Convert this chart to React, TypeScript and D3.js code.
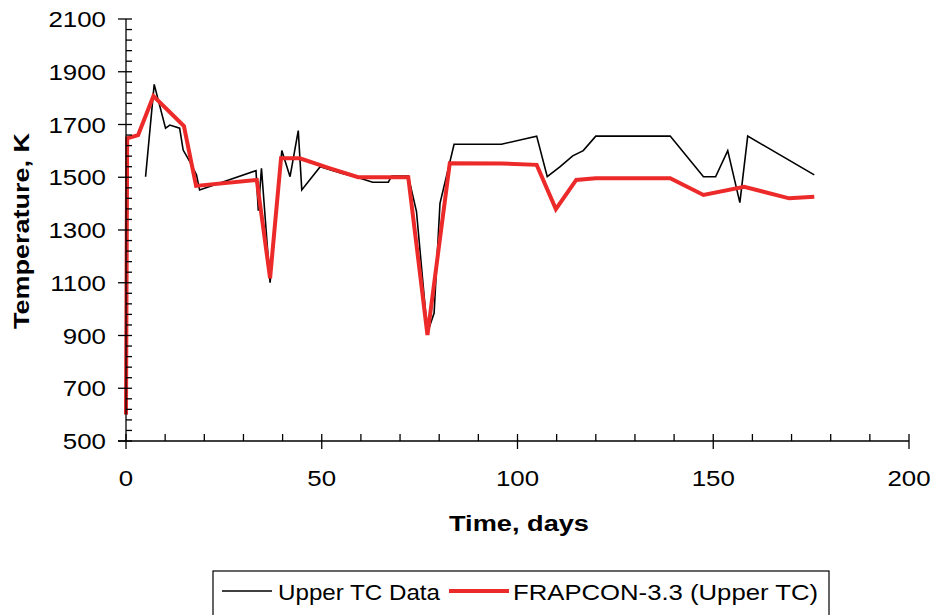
import React from 'react';
import * as d3 from 'd3';

// Upper TC thermocouple readings [day, K]
const tcDays = [5.0, 7.2, 10.1, 11.2, 13.7, 14.6, 16.3, 18.0, 18.8, 33.2, 33.8, 34.6, 36.8, 39.8, 41.9, 44.0, 44.9, 49.6, 55.0, 59.0, 63.0, 67.0, 67.9, 72.1, 74.2, 77.0, 78.7, 80.2, 83.8, 95.9, 104.9, 107.6, 110.9, 114.1, 116.8, 120.0, 139.0, 147.5, 150.6, 153.7, 156.8, 158.8, 175.8];
const tcTemps = [1502, 1852, 1686, 1698, 1686, 1603, 1559, 1509, 1452, 1525, 1373, 1534, 1100, 1601, 1502, 1677, 1452, 1540, 1515, 1500, 1481, 1481, 1505, 1505, 1370, 910, 985, 1401, 1625, 1625, 1656, 1502, 1540, 1581, 1601, 1656, 1656, 1502, 1502, 1601, 1404, 1656, 1509];

// FRAPCON-3.3 prediction [day, K]
const fcDays = [0, 0.3, 3.1, 7.0, 14.8, 17.9, 33.4, 36.8, 39.6, 44.4, 52.1, 59.3, 72.1, 77.0, 82.7, 95.9, 104.9, 109.8, 115.0, 120.0, 139.0, 147.5, 157.9, 169.4, 175.8];
const fcTemps = [600, 1648, 1660, 1808, 1694, 1467, 1490, 1117, 1572, 1572, 1534, 1500, 1500, 902, 1553, 1552, 1547, 1379, 1490, 1496, 1496, 1433, 1464, 1420, 1426];

const xTicks = [0, 50, 100, 150, 200];
const yTicks = [500, 700, 900, 1100, 1300, 1500, 1700, 1900, 2100];

const FONT = '"Liberation Sans", Arial, sans-serif';
const FS = 22.5;
const STRETCH = 1.15;

const App: React.FC = () => {
  const x = d3.scaleLinear().domain([0, 200]).range([126, 909]);
  const y = d3.scaleLinear().domain([500, 2100]).range([441, 19]);

  const line = d3.line<[number, number]>()
    .x(d => x(d[0]))
    .y(d => y(d[1]));

  const tcData: [number, number][] = tcDays.map((d, i) => [d, tcTemps[i]]);
  const fcData: [number, number][] = fcDays.map((d, i) => [d, fcTemps[i]]);

  const xMinor = d3.range(0, 201, 10).filter(v => v % 50 !== 0);
  const yMinor = d3.range(500, 2101, 40).filter(v => (v - 500) % 200 !== 0);

  return (
    <svg width={934} height={615} style={{ position: 'absolute', left: 0, top: 0, background: '#fff' }}>
      {/* series */}
      <path d={line(tcData) || ''} fill="none" stroke="#000" strokeWidth={1.6} strokeLinejoin="miter" />
      <path d={line(fcData) || ''} fill="none" stroke="#ED2A2A" strokeWidth={4} strokeLinejoin="miter" strokeMiterlimit={2.5} />

      {/* y axis */}
      <line x1={x(0)} x2={x(0)} y1={y(2100)} y2={y(500)} stroke="#000" strokeWidth={1.3} />
      {yTicks.map(t => (
        <g key={'yt' + t}>
          <line x1={x(0) - 8} x2={x(0) + 6} y1={y(t)} y2={y(t)} stroke="#000" strokeWidth={1.3} />
          <text transform={`translate(106,${y(t) + 8}) scale(${STRETCH},1)`} textAnchor="end"
            fontFamily={FONT} fontSize={FS} fill="#000">{t}</text>
        </g>
      ))}
      {yMinor.map(t => (
        <line key={'ym' + t} x1={x(0)} x2={x(0) + 6} y1={y(t)} y2={y(t)} stroke="#000" strokeWidth={1.3} />
      ))}

      {/* x axis */}
      <line x1={x(0) - 8} x2={x(200)} y1={y(500)} y2={y(500)} stroke="#000" strokeWidth={1.3} />
      {xTicks.map(t => (
        <g key={'xt' + t}>
          <line x1={x(t)} x2={x(t)} y1={y(500) - 7} y2={y(500) + 8} stroke="#000" strokeWidth={1.3} />
          <text transform={`translate(${x(t)},486) scale(${STRETCH},1)`} textAnchor="middle"
            fontFamily={FONT} fontSize={FS} fill="#000">{t}</text>
        </g>
      ))}
      {xMinor.map(t => (
        <line key={'xm' + t} x1={x(t)} x2={x(t)} y1={y(500) - 7} y2={y(500)} stroke="#000" strokeWidth={1.3} />
      ))}

      {/* axis titles */}
      <text x={519} y={531} textAnchor="middle" fontFamily={FONT} fontSize={FS} fontWeight="bold"
        textLength={140} lengthAdjust="spacingAndGlyphs">Time, days</text>
      <text transform="translate(29,231) rotate(-90)" textAnchor="middle" fontFamily={FONT} fontSize={FS}
        fontWeight="bold" textLength={196} lengthAdjust="spacingAndGlyphs">Temperature, K</text>

      {/* legend */}
      <rect x={213} y={571} width={616} height={60} fill="#fff" stroke="#000" strokeWidth={1.2} />
      <line x1={222} x2={272} y1={591} y2={591} stroke="#000" strokeWidth={1.6} />
      <text x={278} y={600} fontFamily={FONT} fontSize={FS} textLength={162} lengthAdjust="spacingAndGlyphs">Upper TC Data</text>
      <line x1={449} x2={509} y1={591} y2={591} stroke="#ED2A2A" strokeWidth={4} />
      <text x={513} y={600} fontFamily={FONT} fontSize={FS} textLength={305} lengthAdjust="spacingAndGlyphs">FRAPCON-3.3 (Upper TC)</text>
    </svg>
  );
};

export default App;
